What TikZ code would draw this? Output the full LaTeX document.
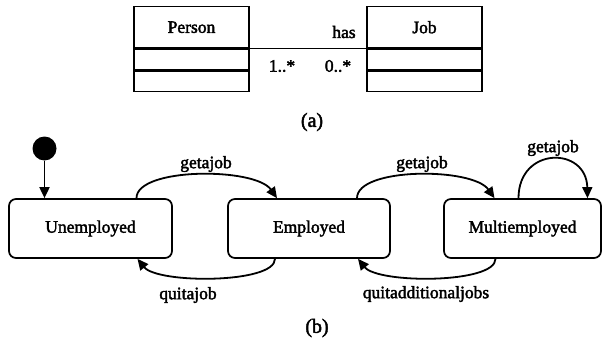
\documentclass[tikz,border=0pt]{standalone}
\usepackage{fontspec}
\setmainfont{Liberation Serif}
% slightly inked roman for all labels
\newfontfamily\inkfont{Liberation Serif}[FakeBold=2.2]
\usetikzlibrary{arrows.meta}
\begin{document}
\begin{tikzpicture}[x=1pt,y=-1pt,
  txt/.style={font=\inkfont\fontsize{17.5}{20}\selectfont, inner sep=0pt},
  cls/.style={draw, line width=1.4pt, minimum width=115pt, inner sep=0pt, anchor=north},
  state/.style={draw, line width=1.7pt, rounded corners=7pt, minimum height=59pt,
    inner sep=0pt, font=\inkfont\fontsize{17.5}{20}\selectfont},
  trans/.style={line width=1.8pt, -{Triangle[length=11pt,width=10pt]}},
  caption/.style={font=\inkfont\fontsize{20}{23}\selectfont, inner sep=0pt}]
\useasboundingbox (0,0) rectangle (604,342);

% ---- class diagram ----
\node[cls, minimum height=41pt, font=\inkfont\fontsize{17.5}{20}\selectfont] (person) at (191.5,6) {Person};
\node[cls, minimum height=21pt] (personattr) at (person.south) {};
\node[cls, minimum height=20pt] (personop) at (personattr.south) {};

\node[cls, minimum height=41pt, font=\inkfont\fontsize{17.5}{20}\selectfont] (job) at (424.5,6) {Job};
\node[cls, minimum height=21pt] (jobattr) at (job.south) {};
\node[cls, minimum height=20pt] (jobop) at (jobattr.south) {};

\draw[line width=1.6pt] (person.south east) -- (job.south west);
\node[txt] (has) at (344,32) {has};
\node[txt] (mult1) at (282,66) {1..*};
\node[txt] (mult2) at (338,66) {0..*};

\node[caption] (capa) at (312,122) {(a)};

% ---- state diagram ----
\node[circle, fill, minimum size=24pt, inner sep=0pt] (init) at (44.5,148.5) {};
\node[state, minimum width=163pt] (un) at (90.5,228.5) {Unemployed};
\node[state, minimum width=162pt] (em) at (309,228.5) {Employed};
\node[state, minimum width=157pt] (mu) at (522.5,228.5) {Multiemployed};

\draw[trans] (init) -- (init |- un.north);

\draw[trans] ([xshift=46pt]un.north) .. controls +(0,-31) and +(-22,-31) .. ([xshift=-32pt]em.north);
\draw[trans] ([xshift=-34pt]em.south) .. controls +(0,25) and +(20,25) .. ([xshift=47pt]un.south);
\draw[trans] ([xshift=48pt]em.north) .. controls +(0,-31) and +(-22,-31) .. ([xshift=-28pt]mu.north);
\draw[trans] ([xshift=-27pt]mu.south) .. controls +(0,25) and +(20,25) .. ([xshift=49pt]em.south);
\draw[trans] ([xshift=-4pt]mu.north) .. controls +(0,-52) and +(-1,-52) .. ([xshift=65pt]mu.north);

\node[txt] (l1) at (206,164) {getajob};
\node[txt] (l2) at (188,295) {quitajob};
\node[txt] (l3) at (422,164) {getajob};
\node[txt] (l4) at (426,294) {quitadditionaljobs};
\node[txt] (l5) at (553,148) {getajob};

\node[caption] (capb) at (317,328) {(b)};
\end{tikzpicture}
\end{document}
